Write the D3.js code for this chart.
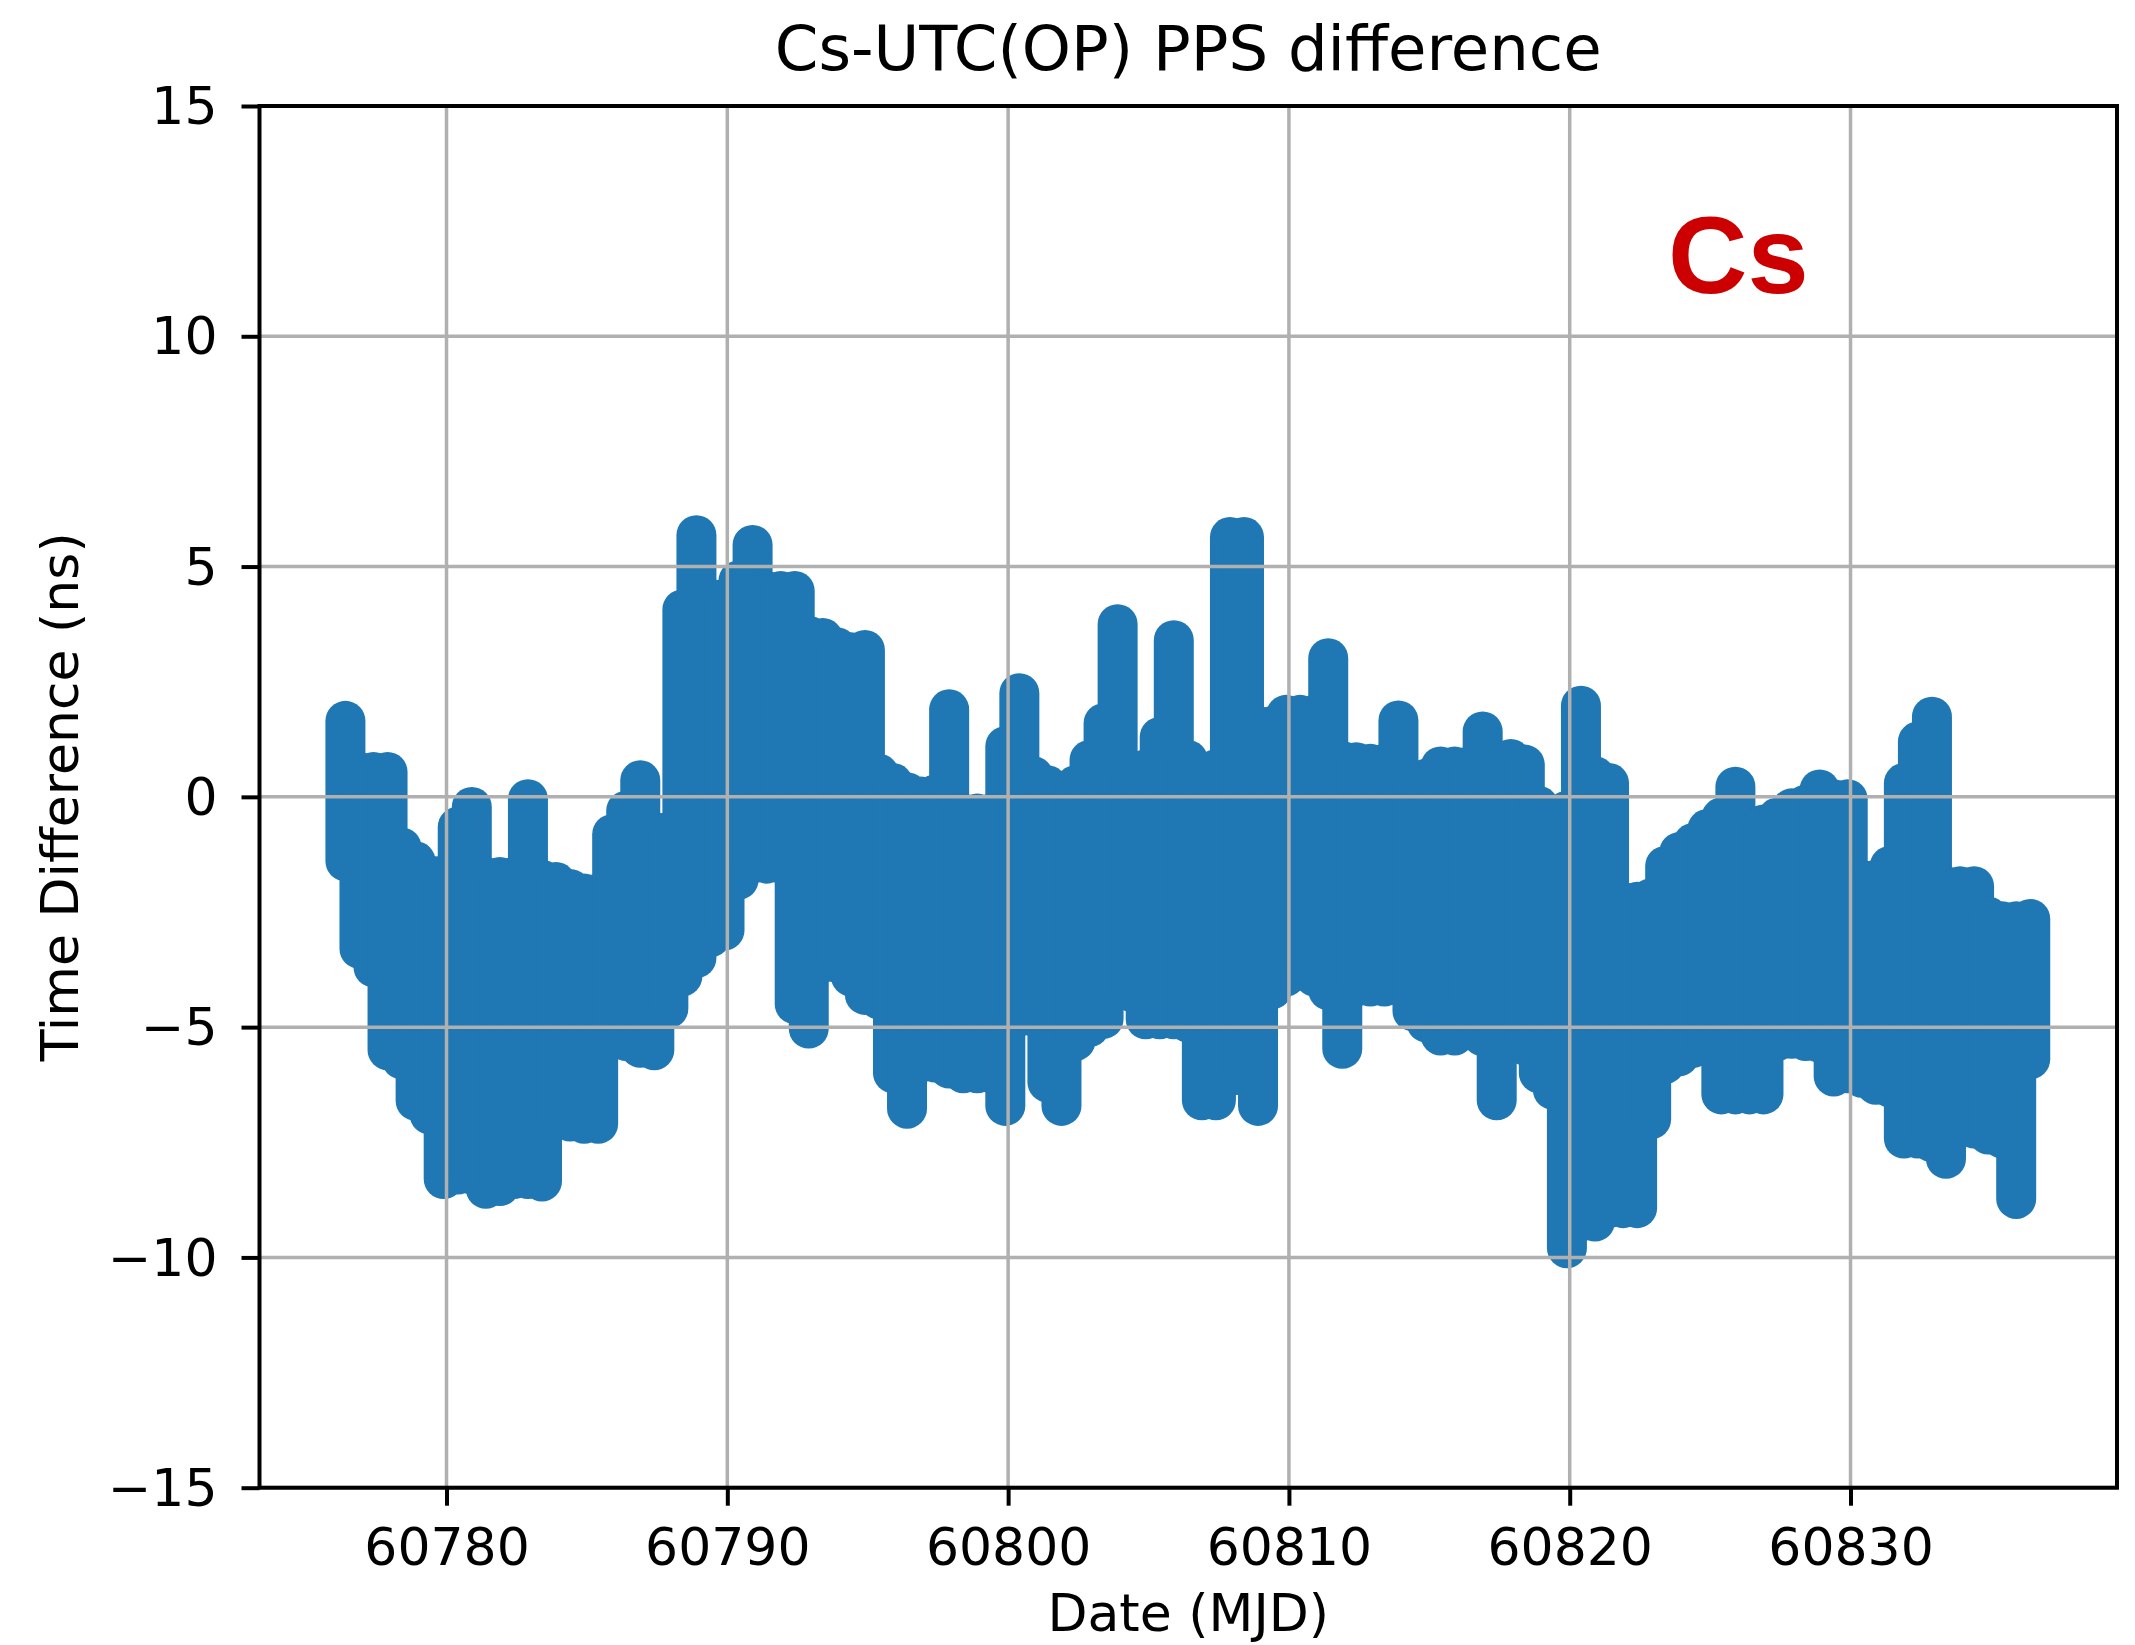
<!DOCTYPE html>
<html>
<head>
<meta charset="utf-8">
<script src="https://cdn.jsdelivr.net/npm/d3@7"></script>
<style>
html, body { margin: 0; padding: 0; background: #ffffff; }
svg { display: block; }
</style>
</head>
<body>
<script>
// ---- data read off the reference: MJD of each sampled column and the
//      upper / lower extent (ns) of the PPS difference points in that column ----
const mjd = [
  60776.4, 60776.9, 60777.4, 60777.9, 60778.4, 60778.9, 60779.4, 60779.9, 60780.4, 60780.9,
  60781.4, 60781.9, 60782.4, 60782.9, 60783.4, 60783.9, 60784.4, 60784.9, 60785.4, 60785.9,
  60786.4, 60786.9, 60787.4, 60787.9, 60788.4, 60788.9, 60789.4, 60789.9, 60790.4, 60790.9,
  60791.4, 60791.9, 60792.4, 60792.9, 60793.4, 60793.9, 60794.4, 60794.9, 60795.4, 60795.9,
  60796.4, 60796.9, 60797.4, 60797.9, 60798.4, 60798.9, 60799.4, 60799.9, 60800.4, 60800.9,
  60801.4, 60801.9, 60802.4, 60802.9, 60803.4, 60803.9, 60804.4, 60804.9, 60805.4, 60805.9,
  60806.4, 60806.9, 60807.4, 60807.9, 60808.4, 60808.9, 60809.4, 60809.9, 60810.4, 60810.9,
  60811.4, 60811.9, 60812.4, 60812.9, 60813.4, 60813.9, 60814.4, 60814.9, 60815.4, 60815.9,
  60816.4, 60816.9, 60817.4, 60817.9, 60818.4, 60818.9, 60819.4, 60819.9, 60820.4, 60820.9,
  60821.4, 60821.9, 60822.4, 60822.9, 60823.4, 60823.9, 60824.4, 60824.9, 60825.4, 60825.9,
  60826.4, 60826.9, 60827.4, 60827.9, 60828.4, 60828.9, 60829.4, 60829.9, 60830.4, 60830.9,
  60831.4, 60831.9, 60832.4, 60832.9, 60833.4, 60833.9, 60834.4, 60834.9, 60835.4, 60835.9,
  60836.4
];
const upperNs = [
  1.65, 0.54, 0.54, 0.54, -1.10, -1.40, -1.70, -1.70, -0.65, -0.22,
  -1.74, -1.74, -1.74, -0.05, -1.80, -1.85, -2.00, -2.10, -2.10, -0.81,
  -0.30, 0.36, -0.76, -0.76, 4.07, 5.68, 4.30, 4.30, 4.70, 5.47,
  4.47, 4.47, 4.47, 3.50, 3.45, 3.25, 3.14, 3.19, 0.50, 0.30,
  0.10, 0.01, 0.05, 1.90, -0.36, -0.36, -0.36, 1.10, 2.25, 0.45,
  0.25, 0.13, 0.25, 0.80, 1.60, 3.75, 0.50, 0.60, 1.30, 3.40,
  0.80, 0.40, 0.60, 5.64, 5.64, 1.54, 1.54, 1.78, 1.78, 1.78,
  3.01, 0.78, 0.75, 0.72, 0.72, 1.66, 0.31, 0.40, 0.66, 0.66,
  0.66, 1.42, 0.80, 0.82, 0.70, -0.20, -0.60, -0.30, 1.98, 0.45,
  0.30, -2.28, -2.28, -2.20, -1.50, -1.20, -1.00, -0.70, -0.45, 0.22,
  -0.78, -0.60, -0.45, -0.25, -0.17, 0.16, -0.05, -0.05, -1.80, -1.80,
  -1.50, 0.30, 1.20, 1.74, -1.94, -1.94, -1.94, -2.60, -2.70, -2.70,
  -2.65
];
const lowerNs = [
  -1.40, -3.30, -3.70, -5.50, -5.70, -6.60, -6.90, -8.30, -8.20, -8.20,
  -8.51, -8.45, -8.30, -8.30, -8.35, -7.00, -7.05, -7.10, -7.10, -5.10,
  -5.30, -5.45, -5.50, -4.60, -3.90, -3.50, -3.05, -2.90, -1.80, -1.45,
  -1.45, -1.45, -4.50, -5.03, -3.60, -3.60, -3.90, -4.30, -4.40, -6.00,
  -6.77, -5.77, -5.77, -5.90, -6.00, -6.00, -6.00, -6.71, -4.77, -4.77,
  -6.20, -6.71, -5.30, -5.00, -4.82, -4.20, -4.24, -4.83, -4.83, -4.83,
  -4.90, -6.59, -6.59, -6.06, -6.06, -6.71, -4.18, -3.90, -3.65, -3.90,
  -4.20, -5.47, -4.12, -4.12, -4.12, -4.10, -4.65, -4.90, -5.18, -5.18,
  -4.50, -5.20, -6.59, -5.00, -5.40, -6.00, -6.36, -9.80, -9.22, -9.22,
  -8.93, -8.93, -8.93, -7.00, -5.80, -5.63, -5.45, -5.40, -6.46, -6.46,
  -6.46, -6.46, -5.30, -5.25, -5.30, -5.34, -6.07, -6.00, -6.10, -6.25,
  -6.31, -7.42, -7.42, -7.50, -7.86, -7.09, -7.20, -7.33, -7.42, -8.73,
  -5.70
];
const xTicks = [60780, 60790, 60800, 60810, 60820, 60830];
const xTickLabels = ["60780", "60790", "60800", "60810", "60820", "60830"];
const yTicks = [-15, -10, -5, 0, 5, 10, 15];
const yTickLabels = ["\u221215", "\u221210", "\u22125", "0", "5", "10", "15"];
const xDomain = [60773.34, 60839.49];
const yDomain = [-15, 15];
const titleText = "Cs-UTC(OP) PPS difference";
const xLabelText = "Date (MJD)";
const yLabelText = "Time Difference (ns)";
const tagText = "Cs";

// ---- layout ----
const W = 2135, H = 1645;
const L = 259.5, R = 2117, T = 106, B = 1487.7;
const markerR = 20;
const blue = "#1f77b4";
const font = "'DejaVu Sans', sans-serif";

const svg = d3.select("body").append("svg")
  .attr("width", W).attr("height", H)
  .attr("viewBox", `0 0 ${W} ${H}`);
svg.append("rect").attr("width", W).attr("height", H).attr("fill", "#ffffff");

const x = d3.scaleLinear().domain(xDomain).range([L, R]);
const y = d3.scaleLinear().domain(yDomain).range([B, T]);

const data = mjd.map((m, i) => ({ m, hi: upperNs[i], lo: lowerNs[i] }));

// data: dense round markers, rendered as a round-capped column per sample
svg.append("g").attr("class", "series")
  .selectAll("line").data(data).join("line")
  .attr("x1", d => x(d.m)).attr("x2", d => x(d.m))
  .attr("y1", d => y(d.hi)).attr("y2", d => y(d.lo))
  .attr("stroke", blue)
  .attr("stroke-width", markerR * 2)
  .attr("stroke-linecap", "round");

// grid (above the data, as in the reference)
const grid = svg.append("g").attr("class", "grid")
  .attr("stroke", "#b0b0b0").attr("stroke-width", 3.5);
grid.selectAll("line.v").data(xTicks).join("line").attr("class", "v")
  .attr("x1", d => x(d)).attr("x2", d => x(d)).attr("y1", T).attr("y2", B);
grid.selectAll("line.h").data(yTicks).join("line").attr("class", "h")
  .attr("x1", L).attr("x2", R).attr("y1", d => y(d)).attr("y2", d => y(d));

// axes
const xAxis = d3.axisBottom(x).tickValues(xTicks)
  .tickFormat((d, i) => xTickLabels[i]).tickSize(18).tickPadding(22.4);
const yAxis = d3.axisLeft(y).tickValues(yTicks)
  .tickFormat((d, i) => yTickLabels[i]).tickSize(18).tickPadding(24);

const gx = svg.append("g").attr("transform", `translate(0,${B})`).call(xAxis);
const gy = svg.append("g").attr("transform", `translate(${L},0)`).call(yAxis);
[gx, gy].forEach(g => {
  g.select(".domain").remove();
  g.selectAll(".tick line").attr("stroke", "#000").attr("stroke-width", 4);
  g.selectAll(".tick text")
    .attr("fill", "#000")
    .style("font-family", font)
    .style("font-size", "52px");
});
gy.selectAll(".tick text").attr("dy", "0.34em");

// frame
svg.append("rect")
  .attr("x", L).attr("y", T).attr("width", R - L).attr("height", B - T)
  .attr("fill", "none").attr("stroke", "#000").attr("stroke-width", 4);

// title and labels
svg.append("text").text(titleText)
  .attr("x", (L + R) / 2).attr("y", 70)
  .attr("text-anchor", "middle")
  .style("font-family", font).style("font-size", "62.5px").attr("fill", "#000");

svg.append("text").text(xLabelText)
  .attr("x", (L + R) / 2).attr("y", 1631)
  .attr("text-anchor", "middle")
  .style("font-family", font).style("font-size", "52px").attr("fill", "#000");

svg.append("text").text(yLabelText)
  .attr("transform", `translate(78,${(T + B) / 2}) rotate(-90)`)
  .attr("text-anchor", "middle")
  .style("font-family", font).style("font-size", "52px").attr("fill", "#000");

svg.append("text").text(tagText)
  .attr("x", 1668).attr("y", 293)
  .style("font-family", "'Liberation Sans', Arial, sans-serif")
  .style("font-weight", "bold").style("font-size", "110px")
  .attr("fill", "#cc0000");
</script>
</body>
</html>
